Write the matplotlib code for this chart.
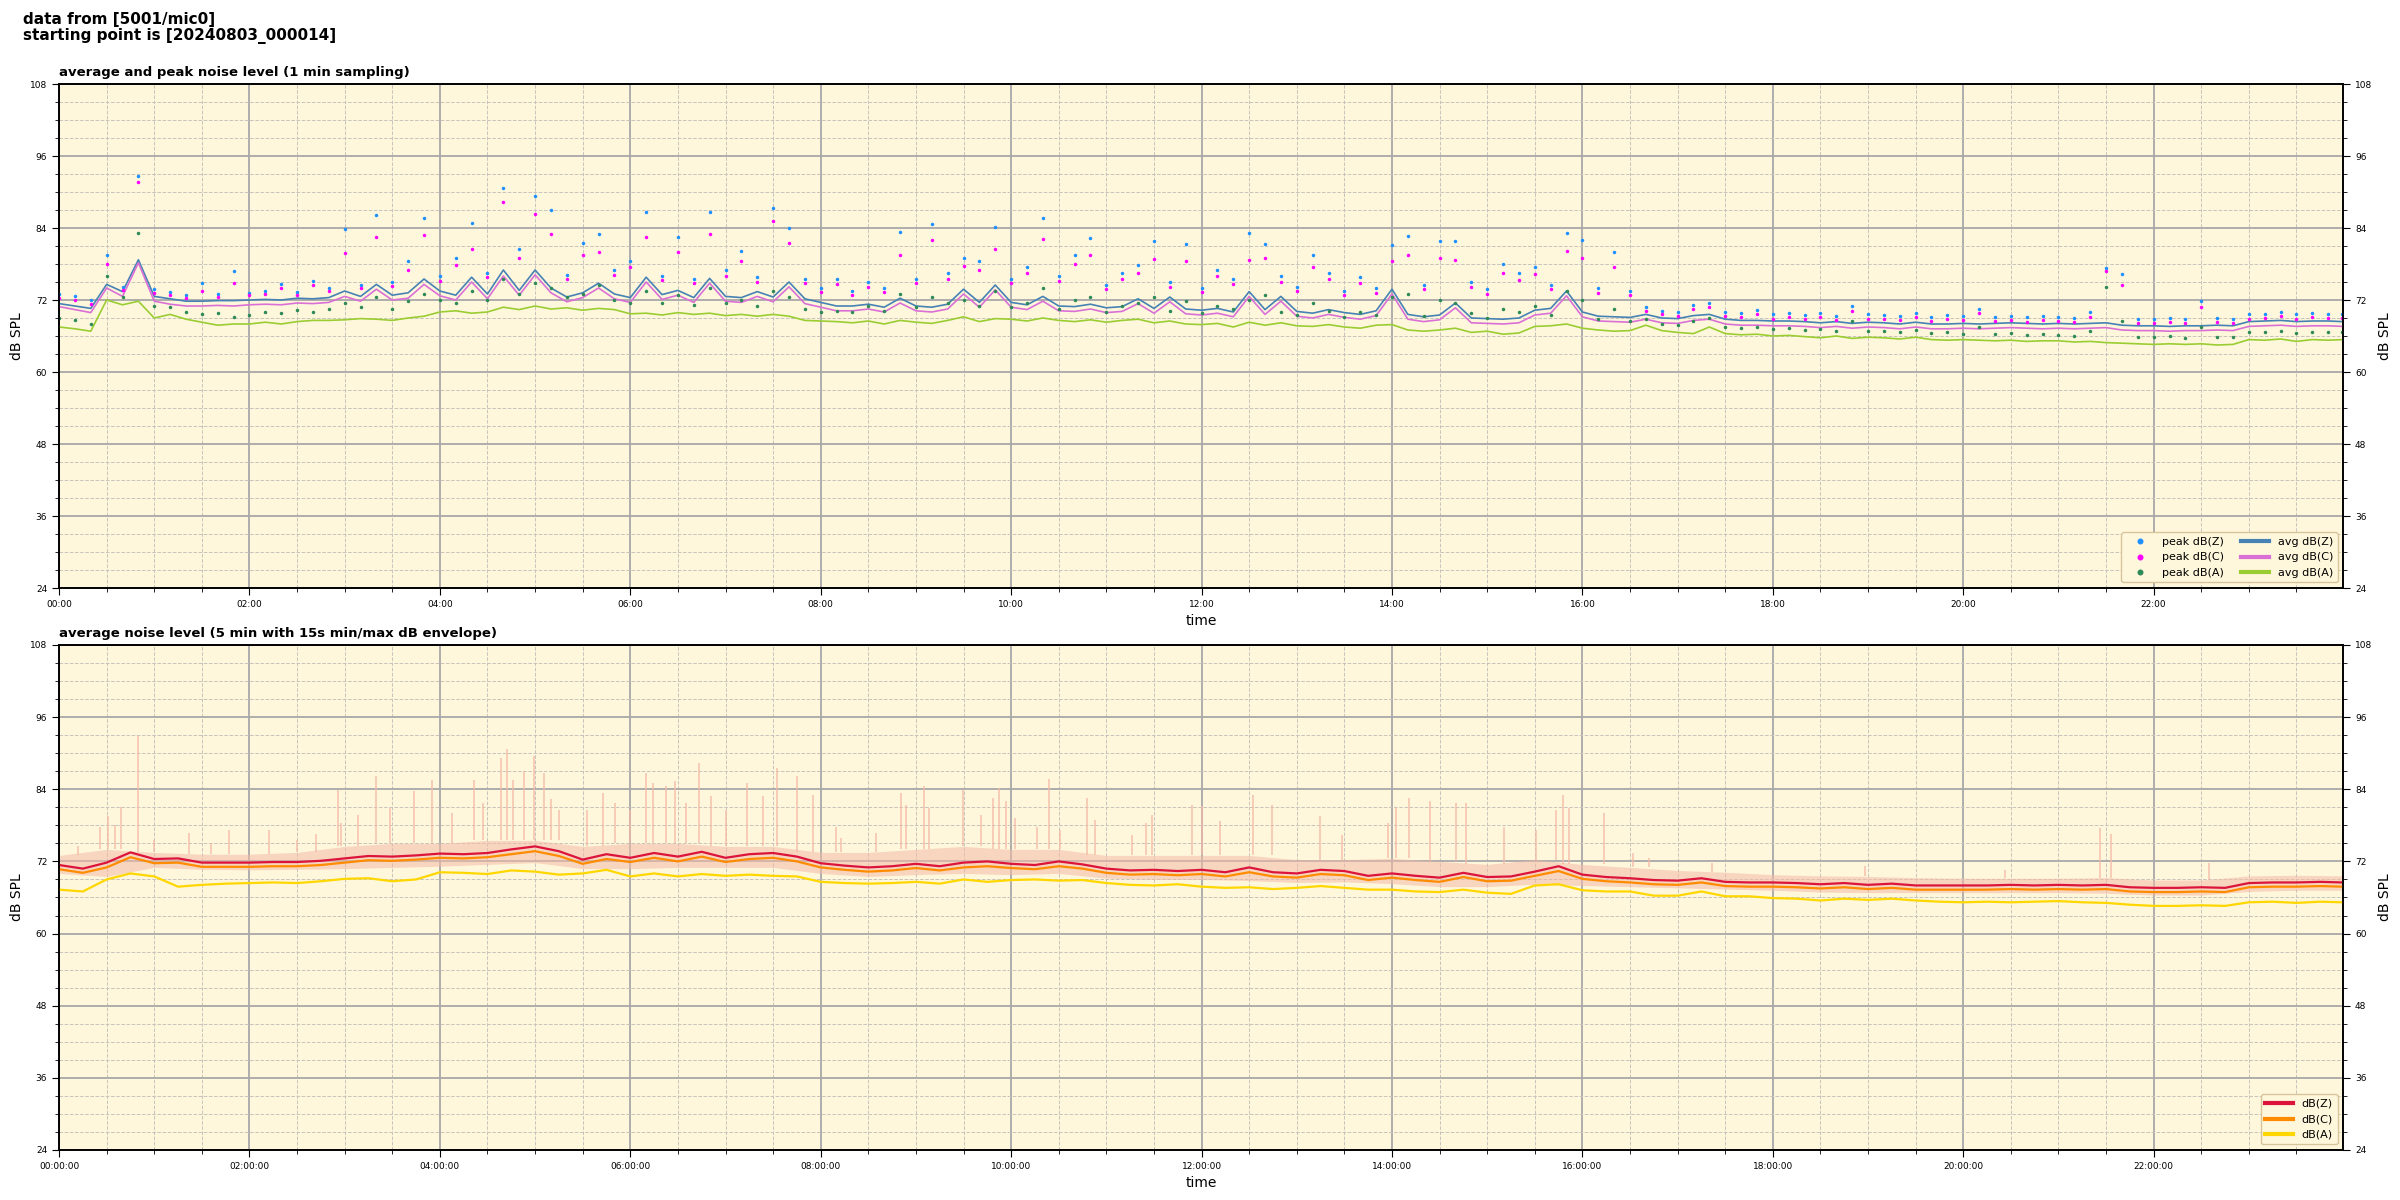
import numpy as np
import matplotlib
matplotlib.use('Agg')
import matplotlib.pyplot as plt
from matplotlib.ticker import MultipleLocator, FuncFormatter

# --- top chart: 1 min sampling, values read every 10 minutes (+ last minute) ---
t_top = np.append(np.arange(0, 1440, 10), 1439) / 60.0

avg_z = [71.4, 71.0, 70.6, 74.6, 73.4, 78.7, 72.6, 72.2, 71.8, 71.8, 71.9, 71.9,
         72.0, 72.1, 72.0, 72.3, 72.2, 72.4, 73.5, 72.6, 74.6, 72.8, 73.2, 75.5,
         73.5, 72.8, 75.8, 73.0, 77.0, 73.6, 77.0, 74.0, 72.5, 73.2, 74.8, 73.0,
         72.4, 75.8, 72.9, 73.6, 72.4, 75.6, 72.6, 72.4, 73.4, 72.5, 75.0, 72.2,
         71.6, 71.0, 71.0, 71.3, 70.8, 72.3, 71.0, 70.8, 71.3, 73.8, 71.6, 74.5,
         71.6, 71.2, 72.6, 71.0, 70.9, 71.3, 70.7, 70.9, 72.2, 70.6, 72.5, 70.5,
         70.3, 70.6, 70.0, 73.4, 70.4, 72.6, 70.1, 69.8, 70.4, 69.9, 69.6, 70.2,
         73.8, 69.6, 69.2, 69.5, 71.5, 69.0, 68.9, 68.8, 69.0, 70.3, 70.6, 73.5,
         70.0, 69.3, 69.2, 69.1, 69.6, 69.0, 68.9, 69.4, 69.6, 68.8, 68.6, 68.6,
         68.5, 68.5, 68.4, 68.2, 68.4, 68.1, 68.3, 68.2, 68.0, 68.3, 68.0, 68.0,
         68.1, 68.0, 68.1, 68.2, 68.1, 68.0, 68.1, 68.0, 68.1, 68.2, 67.8, 67.7,
         67.7, 67.6, 67.7, 67.7, 67.8, 67.7, 68.4, 68.5, 68.6, 68.4, 68.5, 68.5,
         68.4]

avg_c = [70.9, 70.4, 69.9, 74.0, 72.6, 78.2, 71.8, 71.3, 71.0, 71.0, 71.1, 71.0,
         71.2, 71.3, 71.2, 71.5, 71.4, 71.6, 72.6, 71.8, 73.8, 72.0, 72.3, 74.6,
         72.7, 72.0, 75.0, 72.2, 76.0, 72.8, 76.2, 73.2, 71.7, 72.4, 74.0, 72.2,
         71.6, 75.0, 72.1, 72.8, 71.6, 74.8, 71.8, 71.6, 72.6, 71.7, 74.2, 71.4,
         70.8, 70.2, 70.2, 70.5, 70.0, 71.5, 70.2, 70.0, 70.5, 73.0, 70.8, 73.7,
         70.8, 70.4, 71.8, 70.2, 70.1, 70.5, 69.9, 70.1, 71.4, 69.8, 71.7, 69.7,
         69.5, 69.8, 69.2, 72.6, 69.6, 71.8, 69.3, 69.0, 69.6, 69.1, 68.8, 69.4,
         73.0, 68.8, 68.4, 68.7, 70.7, 68.2, 68.1, 68.0, 68.2, 69.5, 69.8, 72.7,
         69.2, 68.5, 68.4, 68.3, 68.8, 68.2, 68.1, 68.6, 68.8, 68.0, 67.8, 67.8,
         67.7, 67.7, 67.6, 67.4, 67.6, 67.3, 67.5, 67.4, 67.2, 67.5, 67.2, 67.2,
         67.3, 67.2, 67.3, 67.4, 67.3, 67.2, 67.3, 67.2, 67.3, 67.4, 67.0, 66.9,
         66.9, 66.8, 66.9, 66.9, 67.0, 66.9, 67.6, 67.7, 67.8, 67.6, 67.7, 67.7,
         67.6]

avg_a = [67.5, 67.2, 66.8, 72.0, 71.2, 71.8, 69.0, 69.6, 68.8, 68.3, 67.8, 68.0,
         68.0, 68.3, 68.0, 68.4, 68.6, 68.6, 68.7, 68.9, 68.8, 68.6, 69.0, 69.3,
         70.0, 70.2, 69.8, 70.0, 70.8, 70.4, 71.0, 70.5, 70.7, 70.3, 70.6, 70.4,
         69.7, 69.8, 69.5, 69.9, 69.6, 69.8, 69.4, 69.6, 69.3, 69.6, 69.3, 68.6,
         68.5, 68.4, 68.2, 68.5, 68.0, 68.6, 68.3, 68.1, 68.6, 69.2, 68.4, 68.9,
         68.8, 68.5, 69.0, 68.6, 68.4, 68.7, 68.3, 68.6, 68.8, 68.2, 68.5, 68.0,
         67.9, 68.1, 67.5, 68.3, 67.8, 68.2, 67.7, 67.6, 67.9, 67.5, 67.3, 67.8,
         67.9, 67.0, 66.8, 67.0, 67.3, 66.6, 66.8, 66.3, 66.5, 67.6, 67.7, 68.0,
         67.3, 67.0, 66.8, 66.9, 67.8, 66.9, 66.6, 66.4, 67.5, 66.4, 66.2, 66.3,
         66.0, 66.1, 65.9, 65.7, 66.0, 65.6, 65.8, 65.7, 65.5, 65.8, 65.4, 65.3,
         65.4, 65.3, 65.2, 65.3, 65.1, 65.2, 65.2, 65.0, 65.1, 64.9, 64.8, 64.7,
         64.6, 64.7, 64.6, 64.7, 64.5, 64.6, 65.4, 65.3, 65.5, 65.1, 65.4, 65.3,
         65.4]

peak_z = [73.0, 72.6, 72.0, 79.5, 74.2, 92.6, 73.8, 73.4, 72.8, 74.8, 73.0, 76.8,
          73.2, 73.5, 74.6, 73.4, 75.2, 74.0, 83.8, 74.5, 86.2, 75.0, 78.5, 85.7,
          76.0, 79.0, 84.8, 76.5, 90.6, 80.5, 89.3, 87.0, 76.2, 81.5, 83.0, 77.0,
          78.5, 86.6, 76.0, 82.5, 75.5, 86.6, 77.0, 80.2, 75.8, 87.4, 84.0, 75.5,
          74.0, 75.5, 73.5, 75.0, 74.0, 83.3, 75.5, 84.7, 76.5, 79.0, 78.5, 84.1,
          75.5, 77.5, 85.6, 76.0, 79.5, 82.4, 74.5, 76.5, 77.8, 81.9, 75.0, 81.4,
          74.0, 77.0, 75.5, 83.1, 81.3, 76.0, 74.2, 79.5, 76.5, 73.5, 75.8, 74.0,
          81.1, 82.7, 74.5, 81.8, 81.8, 75.0, 73.8, 78.0, 76.5, 77.5, 74.5, 83.1,
          82.0, 74.0, 80.0, 73.5, 70.8, 70.2, 70.0, 71.2, 71.5, 70.0, 69.8, 70.3,
          69.6, 69.8, 69.5, 69.9, 69.4, 71.0, 69.6, 69.5, 69.3, 69.8, 69.2, 69.5,
          69.3, 70.5, 69.2, 69.4, 69.1, 69.3, 69.2, 69.0, 70.0, 77.4, 76.4, 68.9,
          68.8, 69.0, 68.8, 71.8, 69.0, 68.9, 69.6, 69.7, 70.0, 69.6, 69.8, 69.7,
          69.7]

peak_c = [72.4, 72.0, 71.4, 78.0, 73.6, 91.7, 73.2, 72.8, 72.3, 73.5, 72.5, 74.8,
          72.8, 73.0, 74.0, 72.9, 74.5, 73.5, 79.8, 74.0, 82.5, 74.3, 77.0, 82.8,
          75.2, 77.8, 80.5, 75.8, 88.4, 79.0, 86.3, 83.0, 75.5, 79.5, 80.0, 76.2,
          77.5, 82.5, 75.3, 80.0, 74.8, 83.0, 76.0, 78.5, 75.0, 85.2, 81.5, 74.8,
          73.4, 74.6, 72.9, 74.2, 73.3, 79.5, 74.8, 82.0, 75.5, 77.6, 77.0, 80.5,
          74.8, 76.5, 82.1, 75.2, 78.0, 79.5, 73.8, 75.5, 76.5, 78.8, 74.2, 78.5,
          73.3, 76.0, 74.6, 78.6, 79.0, 75.0, 73.5, 77.5, 75.5, 72.8, 74.8, 73.2,
          78.5, 79.5, 73.8, 79.0, 78.6, 74.2, 73.0, 76.5, 75.4, 76.3, 73.8, 80.1,
          79.0, 73.2, 77.5, 72.8, 70.2, 69.6, 69.3, 70.5, 70.8, 69.3, 69.1, 69.6,
          68.9, 69.1, 68.8, 69.2, 68.7, 70.2, 68.9, 68.8, 68.6, 69.1, 68.5, 68.8,
          68.6, 69.8, 68.5, 68.7, 68.4, 68.6, 68.5, 68.3, 69.2, 76.8, 74.5, 68.2,
          68.1, 68.3, 68.1, 70.8, 68.3, 68.2, 68.9, 69.0, 69.3, 68.9, 69.1, 69.0,
          69.0]

peak_a = [69.0, 68.6, 68.0, 76.0, 72.5, 83.2, 71.0, 70.8, 70.0, 69.6, 69.8, 69.2,
          69.5, 70.0, 69.8, 70.3, 70.0, 70.5, 71.5, 70.8, 72.5, 70.5, 71.8, 73.0,
          72.0, 71.5, 73.5, 72.0, 75.5, 73.0, 74.8, 74.0, 72.5, 73.0, 74.5, 72.0,
          71.5, 73.5, 71.5, 72.8, 71.2, 74.0, 71.5, 72.0, 71.0, 73.5, 72.5, 70.5,
          70.0, 70.2, 70.0, 71.0, 70.2, 73.0, 70.8, 72.5, 71.5, 72.0, 71.0, 73.5,
          70.8, 71.5, 74.0, 70.5, 72.0, 72.5, 70.0, 71.0, 71.5, 72.5, 70.2, 71.8,
          69.8, 71.0, 70.5, 72.0, 72.8, 70.0, 69.5, 71.5, 70.2, 69.2, 70.0, 69.5,
          72.5, 73.0, 69.3, 72.0, 71.5, 69.8, 69.0, 70.5, 70.0, 71.0, 69.5, 73.5,
          72.0, 68.8, 70.5, 68.5, 68.8, 68.0, 67.8, 68.5, 69.0, 67.5, 67.3, 67.5,
          67.2, 67.3, 67.0, 67.2, 66.8, 68.5, 66.9, 66.8, 66.6, 67.0, 66.5, 66.7,
          66.4, 67.5, 66.3, 66.5, 66.2, 66.4, 66.2, 66.0, 66.8, 74.2, 68.5, 65.9,
          65.8, 66.0, 65.7, 67.5, 65.9, 65.8, 66.6, 66.7, 66.9, 66.5, 66.7, 66.6,
          66.6]

# --- bottom chart: 5 min averages, read every 15 minutes (+ last reading) ---
t_bot = np.append(np.arange(0, 1440, 15), 1439) / 60.0

bot_z = [71.4, 70.8, 71.8, 73.5, 72.4, 72.5, 71.8, 71.8, 71.8, 71.9, 71.9, 72.1,
         72.5, 72.9, 72.8, 73.0, 73.3, 73.2, 73.4, 74.0, 74.5, 73.7, 72.3, 73.2,
         72.6, 73.4, 72.8, 73.6, 72.6, 73.2, 73.4, 72.8, 71.7, 71.3, 71.0, 71.2,
         71.6, 71.2, 71.8, 72.0, 71.6, 71.4, 72.0, 71.5, 70.8, 70.5, 70.6, 70.4,
         70.6, 70.2, 71.0, 70.2, 70.0, 70.6, 70.4, 69.6, 70.0, 69.6, 69.3, 70.1,
         69.4, 69.5, 70.3, 71.2, 69.8, 69.4, 69.2, 68.9, 68.8, 69.2, 68.6, 68.5,
         68.5, 68.4, 68.2, 68.4, 68.1, 68.3, 68.0, 68.0, 68.0, 68.0, 68.1, 68.0,
         68.1, 68.0, 68.1, 67.7, 67.6, 67.6, 67.7, 67.6, 68.4, 68.5, 68.5, 68.6,
         68.5]

bot_c = [70.7, 70.1, 71.0, 72.7, 71.7, 71.8, 71.1, 71.1, 71.1, 71.2, 71.2, 71.4,
         71.8, 72.2, 72.1, 72.3, 72.6, 72.5, 72.7, 73.2, 73.7, 72.9, 71.6, 72.4,
         71.9, 72.6, 72.0, 72.8, 71.9, 72.4, 72.6, 72.0, 71.0, 70.6, 70.3, 70.5,
         70.9, 70.5, 71.0, 71.2, 70.9, 70.7, 71.2, 70.8, 70.1, 69.8, 69.9, 69.7,
         69.9, 69.5, 70.2, 69.5, 69.3, 69.9, 69.7, 68.9, 69.3, 68.9, 68.6, 69.4,
         68.7, 68.8, 69.6, 70.4, 69.1, 68.7, 68.5, 68.2, 68.1, 68.5, 67.9, 67.8,
         67.8, 67.7, 67.5, 67.7, 67.4, 67.6, 67.3, 67.3, 67.3, 67.3, 67.4, 67.3,
         67.4, 67.3, 67.4, 67.0, 66.9, 66.9, 67.0, 66.9, 67.7, 67.8, 67.8, 67.9,
         67.8]

bot_a = [67.3, 67.0, 69.0, 70.0, 69.5, 67.8, 68.1, 68.3, 68.4, 68.5, 68.4, 68.7,
         69.1, 69.2, 68.7, 69.0, 70.2, 70.1, 69.9, 70.5, 70.3, 69.8, 70.0, 70.6,
         69.5, 70.0, 69.5, 69.9, 69.6, 69.8, 69.6, 69.5, 68.6, 68.4, 68.3, 68.4,
         68.6, 68.3, 69.0, 68.6, 68.9, 69.0, 68.8, 68.9, 68.4, 68.1, 68.0, 68.2,
         67.8, 67.6, 67.7, 67.4, 67.6, 67.9, 67.6, 67.3, 67.3, 67.0, 66.9, 67.3,
         66.8, 66.6, 68.0, 68.2, 67.2, 67.0, 67.0, 66.3, 66.3, 67.0, 66.2, 66.2,
         65.9, 65.8, 65.5, 65.8, 65.6, 65.8, 65.5, 65.3, 65.2, 65.3, 65.2, 65.3,
         65.4, 65.2, 65.1, 64.8, 64.6, 64.6, 64.7, 64.6, 65.2, 65.3, 65.1, 65.3,
         65.2]

# 15s min/max envelope, dense band read every 30 minutes (+ last reading)
t_env = np.append(np.arange(0, 1440, 30), 1439) / 60.0
env_lo = [70.0, 69.5, 71.0, 70.7, 70.6, 70.7, 70.8, 71.0, 71.2, 71.5, 71.8, 70.8,
          70.8, 71.0, 71.0, 71.0, 70.0, 69.5, 69.8, 70.0, 69.8, 70.0, 69.2, 69.0,
          69.0, 68.8, 68.5, 68.6, 68.3, 67.8, 67.8, 68.2, 68.0, 67.8, 67.6, 67.4,
          67.2, 66.9, 66.8, 66.8, 66.8, 66.8, 66.8, 66.7, 66.4, 66.4, 67.0, 67.2,
          67.2]
env_hi = [73.0, 74.0, 73.5, 73.2, 73.2, 73.5, 74.5, 75.0, 75.0, 75.5, 75.5, 74.5,
          75.0, 75.0, 74.5, 74.5, 73.5, 73.5, 74.0, 74.5, 74.0, 74.0, 73.0, 73.0,
          73.0, 73.0, 72.3, 72.3, 72.5, 72.0, 71.5, 72.3, 71.5, 71.0, 70.5, 70.2,
          69.8, 69.6, 69.5, 69.3, 69.2, 69.2, 69.2, 69.3, 68.9, 68.9, 69.6, 69.7,
          69.6]

# narrow max spikes of the envelope (time in h, dB)
spike_t = [0.20, 0.43, 0.51, 0.59, 0.65, 0.83, 1.00, 1.36, 1.60, 1.79, 2.21, 2.50,
           2.70, 2.93, 2.96, 3.14, 3.33, 3.48, 3.73, 3.92, 4.13, 4.36, 4.45, 4.64,
           4.70, 4.77, 4.88, 4.99, 5.09, 5.17, 5.25, 5.55, 5.71, 5.84, 6.00, 6.16,
           6.24, 6.37, 6.47, 6.59, 6.72, 6.85, 7.01, 7.23, 7.39, 7.54, 7.75, 7.92,
           8.16, 8.21, 8.58, 8.84, 8.90, 9.09, 9.14, 9.49, 9.68, 9.81, 9.87, 9.95,
           10.04, 10.27, 10.40, 10.51, 10.80, 10.88, 11.27, 11.42, 11.48, 11.90, 12.00, 12.19,
           12.54, 12.74, 13.24, 13.48, 13.96, 14.04, 14.18, 14.40, 14.67, 14.78, 15.18, 15.51,
           15.72, 15.80, 15.86, 16.23, 16.53, 16.70, 17.36, 18.97, 20.44, 21.44, 21.55, 22.58]
spike_db = [74.5, 77.7, 79.5, 78.1, 81.1, 92.8, 75.5, 76.7, 75.0, 77.3, 77.3, 75.5,
            76.5, 83.9, 78.4, 79.8, 86.2, 80.9, 83.7, 85.6, 80.1, 85.6, 81.7, 89.2,
            90.7, 85.6, 87.0, 89.5, 86.7, 82.3, 80.6, 80.6, 83.4, 81.7, 80.6, 86.7,
            85.1, 84.5, 85.3, 81.7, 88.4, 82.8, 80.6, 85.1, 82.8, 87.6, 86.2, 83.1,
            77.8, 75.9, 76.7, 83.4, 81.4, 84.6, 80.9, 83.9, 79.8, 82.6, 84.2, 82.0,
            79.2, 77.8, 85.7, 77.3, 82.6, 78.9, 76.4, 78.4, 79.8, 81.4, 81.2, 78.7,
            83.1, 81.4, 79.5, 76.4, 78.4, 80.9, 82.6, 82.0, 81.7, 81.7, 77.8, 77.3,
            80.6, 83.1, 80.9, 80.1, 73.4, 72.6, 71.8, 71.2, 70.6, 77.6, 76.6, 71.8]

BG = '#FFF7DC'
yticks = np.arange(24, 109, 12)


def fmt_hm(x, pos):
    h = int(x)
    m = int(round((x - h) * 60))
    return f"{h:02d}:{m:02d}"


def fmt_hms(x, pos):
    return fmt_hm(x, pos) + ":00"


def style_axes(ax, fmt):
    ax.set_facecolor(BG)
    ax.set_xlim(0, 23.99)
    ax.set_ylim(24, 108)
    ax.set_yticks(yticks)
    ax.yaxis.set_minor_locator(MultipleLocator(3))
    ax.xaxis.set_major_locator(MultipleLocator(2))
    ax.xaxis.set_minor_locator(MultipleLocator(0.5))
    ax.xaxis.set_major_formatter(FuncFormatter(fmt))
    ax.grid(which='major', color='#A8A8A8', linewidth=1.3, zorder=0)
    ax.grid(which='minor', color='#C8C4BC', linestyle='--', linewidth=0.7, zorder=0)
    ax.set_axisbelow(True)
    ax.tick_params(which='major', labelsize=6.5, length=5)
    ax.tick_params(which='minor', length=3)
    ax.set_xlabel('time', fontsize=10)
    ax.set_ylabel('dB SPL', fontsize=10)
    ax2 = ax.twinx()
    ax2.set_ylim(24, 108)
    ax2.set_yticks(yticks)
    ax2.yaxis.set_minor_locator(MultipleLocator(3))
    ax2.tick_params(which='major', labelsize=6.5, length=5)
    ax2.tick_params(which='minor', length=3)
    ax2.set_ylabel('dB SPL', fontsize=10)
    for sp in list(ax.spines.values()) + list(ax2.spines.values()):
        sp.set_linewidth(1.2)


fig = plt.figure(figsize=(24, 12), dpi=100)
fig.text(0.0095, 0.99, "data from [5001/mic0]\nstarting point is [20240803_000014]",
         fontsize=11, fontweight='bold', va='top', ha='left', linespacing=1.05)

ax1 = fig.add_axes([0.0246, 0.51, 0.9517, 0.42])
ax2 = fig.add_axes([0.0246, 0.0417, 0.9517, 0.4208])

# top chart
ax1.plot(t_top, avg_z, color='#4682B4', lw=1.2, zorder=3, label='avg dB(Z)')
ax1.plot(t_top, avg_c, color='#DA70D6', lw=1.2, zorder=3, label='avg dB(C)')
ax1.plot(t_top, avg_a, color='#9ACD32', lw=1.2, zorder=3, label='avg dB(A)')
ax1.plot(t_top, peak_z, '.', color='#1E90FF', ms=3, zorder=4, label='peak dB(Z)')
ax1.plot(t_top, peak_c, '.', color='#FF00FF', ms=3, zorder=4, label='peak dB(C)')
ax1.plot(t_top, peak_a, '.', color='#2E8B57', ms=3, zorder=4, label='peak dB(A)')
style_axes(ax1, fmt_hm)
ax1.set_title('average and peak noise level (1 min sampling)', loc='left',
              fontsize=9.5, fontweight='bold', pad=6)
h, l = ax1.get_legend_handles_labels()
order = [3, 4, 5, 0, 1, 2]
leg = ax1.legend([h[i] for i in order], [l[i] for i in order], loc='lower right',
                 ncol=2, fontsize=8, markerscale=2.2, facecolor=BG, edgecolor='#D8C49A',
                 framealpha=1, borderpad=0.4, handlelength=2.5, columnspacing=1.5)
for line in leg.get_lines():
    if line.get_linestyle() == '-':
        line.set_linewidth(3)

# bottom chart
ax2.fill_between(t_env, env_lo, env_hi, color='#F4B9A6', alpha=0.55, lw=0, zorder=1)
spike_base = [env_hi[min(int(round(t * 2)), len(env_hi) - 1)] for t in spike_t]
ax2.vlines(spike_t, spike_base, spike_db, color='#F4B9A6', alpha=0.75, lw=1.3, zorder=1)
ax2.plot(t_bot, bot_a, color='#FFD700', lw=1.6, zorder=3, label='dB(A)')
ax2.plot(t_bot, bot_c, color='#FF8C00', lw=1.6, zorder=4, label='dB(C)')
ax2.plot(t_bot, bot_z, color='#DC143C', lw=1.6, zorder=5, label='dB(Z)')
style_axes(ax2, fmt_hms)
ax2.set_title('average noise level (5 min with 15s min/max dB envelope)', loc='left',
              fontsize=9.5, fontweight='bold', pad=6)
h, l = ax2.get_legend_handles_labels()
leg2 = ax2.legend(h[::-1], l[::-1], loc='lower right', fontsize=8, facecolor=BG,
                  edgecolor='#D8C49A', framealpha=1, handlelength=2.5)
for line in leg2.get_lines():
    line.set_linewidth(3)

fig.savefig('out.png', dpi=100, facecolor='white')
